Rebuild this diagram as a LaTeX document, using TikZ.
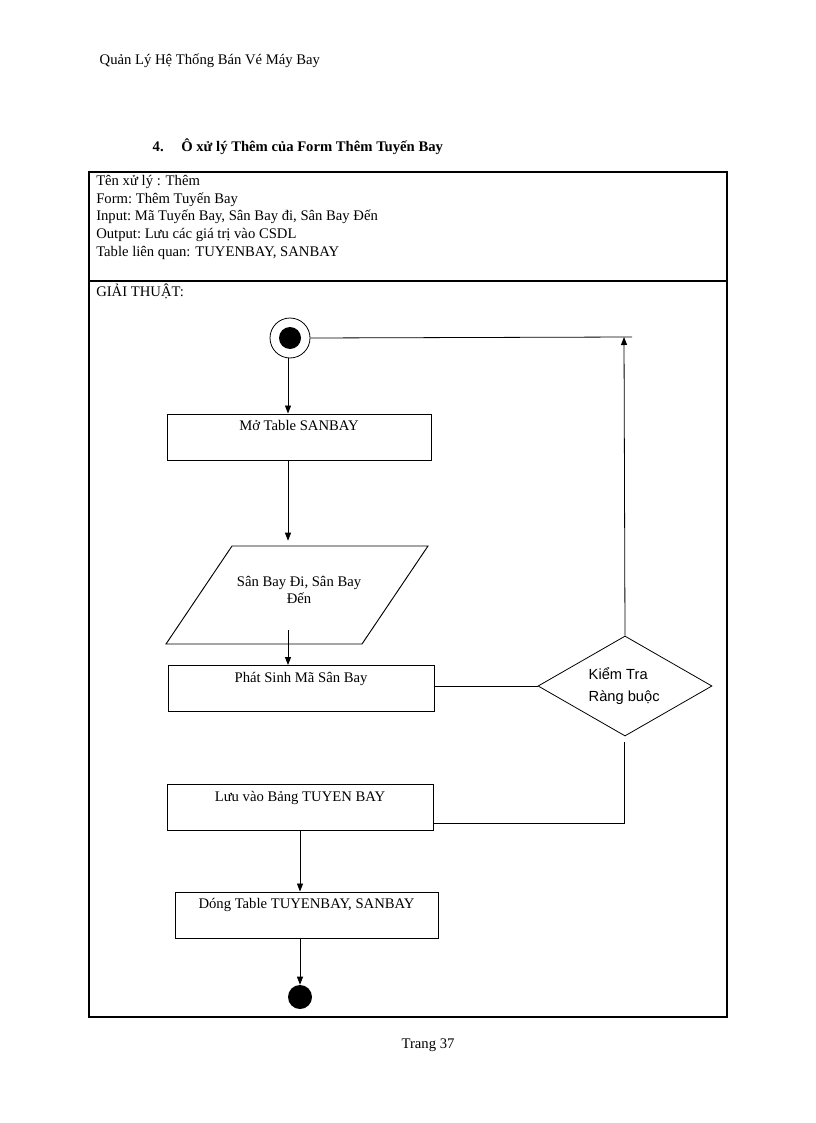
\documentclass[tikz,border=0pt]{standalone}
\usepackage{fontspec}
\setmainfont{Liberation Serif}
\newfontfamily\sff{Liberation Sans}
\usetikzlibrary{shapes.geometric,arrows.meta}
\begin{document}
\begin{tikzpicture}[x=0.75pt,y=-0.75pt,font=\fontsize{11}{13}\selectfont,
  box/.style={draw,line width=0.7pt,minimum width=#1*0.75pt,minimum height=46*0.75pt,inner sep=0pt},
  lab/.style={anchor=north,inner sep=0pt,yshift=-5pt},
  arr/.style={-{Triangle[length=6pt,width=4.5pt]},line width=0.6pt},
  ln/.style={line width=0.6pt}]
\useasboundingbox (0,0) rectangle (816,1123);
\node[anchor=west] (hdr) at (95,61) {Quản Lý Hệ Thống Bán Vé Máy Bay};
\node[anchor=west,font=\fontsize{11}{13}\selectfont\bfseries] (ttl) at (148,147) {4.\hspace{1.2em}Ô xử lý Thêm của Form Thêm Tuyến Bay};
\draw[line width=0.8pt] (89,172) rectangle (727,1017);
\draw[line width=0.8pt] (89,281) -- (727,281);
\node[anchor=north west,align=left,inner sep=0pt,font=\fontsize{11}{13.3}\selectfont] (info) at (96,175) {Tên xử lý : Thêm\\Form:\ Thêm Tuyến Bay\\Input:\ Mã Tuyến Bay, Sân Bay đi, Sân Bay Đến\\Output:\ Lưu các giá trị vào CSDL\\Table liên quan: TUYENBAY, SANBAY};
\node[anchor=west,inner sep=0pt] (gt) at (96,291) {GIẢI THUẬT:};
% start
\node[circle,draw,line width=0.6pt,minimum size=40*0.75pt,inner sep=0pt] (st) at (290,338) {};
\node[circle,fill=black,minimum size=22*0.75pt,inner sep=0pt] (sti) at (290,338) {};
% boxes
\node[box=264] (b1) at (299,437) {};
\node[lab] at (b1.north) {Mở Table SANBAY};
\draw[line width=0.7pt] (232,546) -- (428,546) -- (362,644) -- (166,644) -- cycle;
\node[align=center,minimum width=130*0.75pt,minimum height=98*0.75pt,inner sep=0pt] (p) at (299,590) {Sân Bay Đi, Sân Bay\\Đến};
\node[box=266] (b2) at (301,688.5) {};
\node[lab] at (b2.north) {Phát Sinh Mã Sân Bay};
\node[draw,diamond,aspect=1.74,line width=0.6pt,minimum width=174*0.75pt,minimum height=100*0.75pt,inner sep=0pt] (d) at (625,686) {};
\node[font=\sff\fontsize{11}{17}\selectfont,align=left,anchor=west] at (584,686) {Kiểm Tra\\Ràng buộc};
\node[box=266] (b3) at (300,807.5) {};
\node[lab] at (b3.north) {Lưu vào Bảng TUYEN BAY};
\node[box=263] (b4) at (306.5,915) {};
\node[lab] at (b4.north) {Dóng Table TUYENBAY, SANBAY};
\node[circle,fill=black,minimum size=24*0.75pt,inner sep=0pt] (en) at (300,997) {};
\coordinate (c1) at (288,630);
\coordinate (c2) at (624,337);
\coordinate (c3) at (632,337);
\coordinate (c4) at (624,742);
\coordinate (c5) at (624,823);
\coordinate (c6) at (433,823);
% connectors
\draw[arr] (288,358) -- (b1.north -| 288,0);
\draw[arr] (b1.south -| 288,0) -- (p.north -| 288,0);
\draw[arr] (c1) -- (b2.north -| 288,0);
\draw[ln] (d.west -| b2.east) -- (d.west);
\draw[arr] (d.north) -- (c2);
\draw[ln] (st.east) -- (c3);
\draw[ln] (c4) -- (c5) -- (c6);
\draw[arr] (b3.south -| 300,0) -- (b4.north -| 300,0);
\draw[arr] (b4.south -| 300,0) -- (en.north);
\node (pg) at (428,1045) {Trang 37};
\end{tikzpicture}
\end{document}
